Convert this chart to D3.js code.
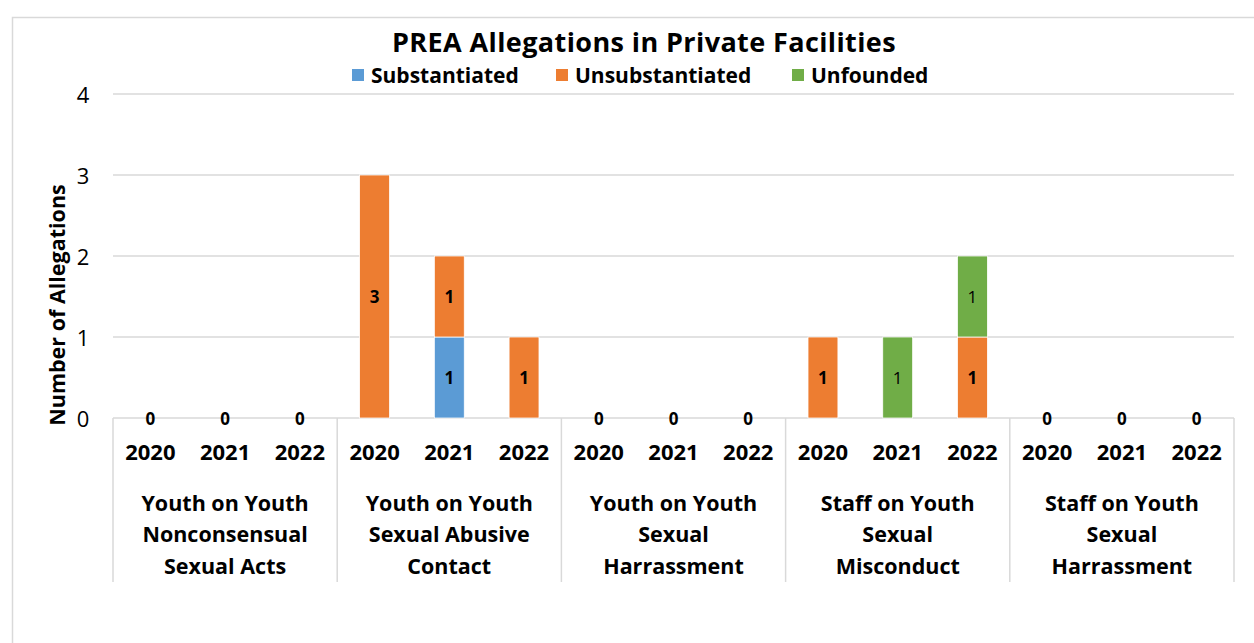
<!DOCTYPE html>
<html>
<head>
<meta charset="utf-8">
<script src="https://cdn.jsdelivr.net/npm/d3@7"></script>
<style>
  body { margin: 0; background: #fff; }
  text { font-family: "Open Sans", "Noto Sans", sans-serif; fill: #000; }
</style>
</head>
<body>
<script>
// Chart data
var categories = [
  ["Youth on Youth", "Nonconsensual", "Sexual Acts"],
  ["Youth on Youth", "Sexual Abusive", "Contact"],
  ["Youth on Youth", "Sexual", "Harrassment"],
  ["Staff on Youth", "Sexual", "Misconduct"],
  ["Staff on Youth", "Sexual", "Harrassment"]
];
var years = ["2020", "2021", "2022"];
var seriesNames = ["Substantiated", "Unsubstantiated", "Unfounded"];
var substantiated   = [0,0,0, 0,1,0, 0,0,0, 0,0,0, 0,0,0];
var unsubstantiated = [0,0,0, 3,1,1, 0,0,0, 1,0,1, 0,0,0];
var unfounded       = [0,0,0, 0,0,0, 0,0,0, 0,1,1, 0,0,0];
var yTicks = [0, 1, 2, 3, 4];
var colors = ["#5B9BD5", "#ED7D31", "#70AD47"];

var svgWidth = 1254;
var svgHeight = 643;

// Plot area
var plot = { left: 113, right: 1234, top: 94, bottom: 418 };

var svg = d3.select("body")
  .append("svg")
  .attr("width", svgWidth)
  .attr("height", svgHeight);

// outer chart border
svg.append("path")
  .attr("d", "M12.5,643 V17.5 H1254")
  .attr("fill", "none")
  .attr("stroke", "#d9d9d9")
  .attr("stroke-width", 1.5);

// build rows: one per category/year slot
var rows = [];
categories.forEach(function(c, ci) {
  years.forEach(function(yr, yi) {
    var i = ci * 3 + yi;
    rows.push({
      key: ci + "-" + yr, cat: ci, year: yr,
      Substantiated: substantiated[i],
      Unsubstantiated: unsubstantiated[i],
      Unfounded: unfounded[i]
    });
  });
});

var xCat = d3.scaleBand()
  .domain(d3.range(categories.length))
  .range([plot.left, plot.right])
  .padding(0);

var xYear = d3.scaleBand()
  .domain(years)
  .range([0, xCat.bandwidth()])
  .paddingInner(0.6)
  .paddingOuter(0.3);

var yScale = d3.scaleLinear()
  .domain([0, 4])
  .range([plot.bottom, plot.top]);

// gridlines
svg.append("g")
  .selectAll("line")
  .data(yTicks)
  .enter()
  .append("line")
  .attr("x1", plot.left)
  .attr("x2", plot.right)
  .attr("y1", d => yScale(d))
  .attr("y2", d => yScale(d))
  .attr("stroke", "#d9d9d9")
  .attr("stroke-width", 1.5);

// y tick labels
svg.append("g")
  .selectAll("text")
  .data(yTicks)
  .enter()
  .append("text")
  .attr("x", 83)
  .attr("y", d => yScale(d))
  .attr("text-anchor", "middle")
  .attr("dominant-baseline", "central")
  .style("font-size", "22px")
  .text(d => d);

// y axis title
svg.append("text")
  .attr("transform", "translate(56,305) rotate(-90)")
  .attr("text-anchor", "middle")
  .attr("dominant-baseline", "central")
  .style("font-size", "21.5px")
  .style("font-weight", "bold")
  .text("Number of Allegations");

// stacked bars
var stack = d3.stack().keys(seriesNames);
var stacked = stack(rows);

var slotX = d => xCat(d.data.cat) + xYear(d.data.year);

var layers = svg.append("g")
  .selectAll("g")
  .data(stacked)
  .enter()
  .append("g")
  .attr("fill", (d, i) => colors[i]);

layers.selectAll("rect")
  .data(d => d.filter(p => p[1] - p[0] > 0))
  .enter()
  .append("rect")
  .attr("x", slotX)
  .attr("y", d => yScale(d[1]))
  .attr("width", xYear.bandwidth())
  .attr("height", d => yScale(d[0]) - yScale(d[1]))
  .attr("stroke", "#fff")
  .attr("stroke-width", 0.75);

// value labels inside segments
layers.each(function(layer, li) {
  d3.select(this).selectAll("text")
    .data(layer.filter(p => p[1] - p[0] > 0))
    .enter()
    .append("text")
    .attr("x", d => slotX(d) + xYear.bandwidth() / 2)
    .attr("y", d => yScale((d[0] + d[1]) / 2))
    .attr("text-anchor", "middle")
    .attr("dominant-baseline", "central")
    .style("font-size", "17px")
    .style("font-weight", li === 2 ? "normal" : "bold")
    .style("fill", "#000")
    .text(d => d[1] - d[0]);
});

// zero labels for empty slots
svg.append("g")
  .selectAll("text")
  .data(rows.filter(r => r.Substantiated + r.Unsubstantiated + r.Unfounded === 0))
  .enter()
  .append("text")
  .attr("x", d => xCat(d.cat) + xYear(d.year) + xYear.bandwidth() / 2)
  .attr("y", yScale(0))
  .attr("text-anchor", "middle")
  .attr("dominant-baseline", "central")
  .style("font-size", "17px")
  .style("font-weight", "bold")
  .text("0");

// category dividers below baseline
var dividers = d3.range(categories.length + 1).map(i => i < categories.length ? xCat(i) : plot.right);
svg.append("g")
  .selectAll("line")
  .data(dividers)
  .enter()
  .append("line")
  .attr("x1", d => d)
  .attr("x2", d => d)
  .attr("y1", plot.bottom)
  .attr("y2", 582)
  .attr("stroke", "#d9d9d9")
  .attr("stroke-width", 1.5);

// year labels
svg.append("g")
  .selectAll("text")
  .data(rows)
  .enter()
  .append("text")
  .attr("x", d => xCat(d.cat) + xYear(d.year) + xYear.bandwidth() / 2)
  .attr("y", 451)
  .attr("text-anchor", "middle")
  .attr("dominant-baseline", "central")
  .style("font-size", "22px")
  .style("font-weight", "bold")
  .text(d => d.year);

// category labels
var catLabels = svg.append("g")
  .selectAll("text")
  .data(categories)
  .enter()
  .append("text")
  .attr("text-anchor", "middle")
  .style("font-size", "21.5px")
  .style("font-weight", "bold");

catLabels.selectAll("tspan")
  .data((d, i) => d.map(line => ({ line: line, cat: i })))
  .enter()
  .append("tspan")
  .attr("x", d => xCat(d.cat) + xCat.bandwidth() / 2)
  .attr("y", (d, i) => 502 + i * 31.5)
  .attr("dominant-baseline", "central")
  .text(d => d.line);

// title
svg.append("text")
  .attr("x", 644)
  .attr("y", 41)
  .attr("text-anchor", "middle")
  .attr("dominant-baseline", "central")
  .style("font-size", "27px")
  .style("font-weight", "bold")
  .style("letter-spacing", "0.4px")
  .text("PREA Allegations in Private Facilities");

// legend
var legendX = [352, 556, 792];
var legend = svg.append("g")
  .selectAll("g")
  .data(seriesNames)
  .enter()
  .append("g")
  .attr("transform", (d, i) => `translate(${legendX[i]}, 75)`);

legend.append("rect")
  .attr("x", 0)
  .attr("y", -6)
  .attr("width", 12)
  .attr("height", 12)
  .attr("fill", (d, i) => colors[i]);

legend.append("text")
  .attr("x", 19)
  .attr("y", 0)
  .attr("dominant-baseline", "central")
  .style("font-size", "21px")
  .style("font-weight", "bold")
  .text(d => d);
</script>
</body>
</html>
